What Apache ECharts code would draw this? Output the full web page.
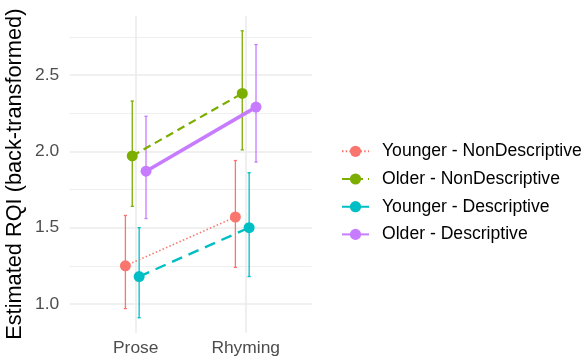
<!DOCTYPE html>
<html>
<head>
<meta charset="utf-8">
<script src="https://cdn.jsdelivr.net/npm/echarts@6/dist/echarts.min.js"></script>
<style>
  html, body { margin: 0; padding: 0; background: #ffffff; }
  #chart { width: 584px; height: 362px; }
</style>
</head>
<body>
<div id="chart"></div>
<script>
// Conditions on the x axis
const categories = ['Prose', 'Rhyming'];

// Groups (age x description type)
const groups = [
  'Younger - NonDescriptive',
  'Older - NonDescriptive',
  'Younger - Descriptive',
  'Older - Descriptive'
];

// Estimated RQI (back-transformed), per condition
const youngerNonDescEst = [1.25, 1.57];
const youngerNonDescLow = [0.97, 1.24];
const youngerNonDescHigh = [1.58, 1.94];

const olderNonDescEst = [1.97, 2.38];
const olderNonDescLow = [1.64, 2.01];
const olderNonDescHigh = [2.33, 2.79];

const youngerDescEst = [1.18, 1.50];
const youngerDescLow = [0.91, 1.18];
const youngerDescHigh = [1.50, 1.86];

const olderDescEst = [1.87, 2.29];
const olderDescLow = [1.56, 1.93];
const olderDescHigh = [2.23, 2.70];

// Y tick labels
const yTicks = [1.0, 1.5, 2.0, 2.5];
const yMinorTicks = [1.25, 1.75, 2.25, 2.75];

const estimates = [youngerNonDescEst, olderNonDescEst, youngerDescEst, olderDescEst];
const lows = [youngerNonDescLow, olderNonDescLow, youngerDescLow, olderDescLow];
const highs = [youngerNonDescHigh, olderNonDescHigh, youngerDescHigh, olderDescHigh];

const colors = ['#F8766D', '#7CAE00', '#00BFC4', '#C77CFF'];
const lineStyles = [
  { type: [1.5, 2.2], width: 1.6 },
  { type: [8, 5], width: 2.2 },
  { type: [11, 7], width: 2.4 },
  { type: 'solid', width: 3.6 }
];

// position dodge, width 0.25
const dodgeWidth = 0.25;
const n = groups.length;
const offsetFor = g => -dodgeWidth / 2 + dodgeWidth / n * (g + 0.5);

const FONT = '"Liberation Sans", Arial, Helvetica, sans-serif';

const series = [];

// error bars
groups.forEach((name, g) => {
  series.push({
    type: 'custom',
    name: 'ci-' + g,
    xAxisIndex: 0,
    yAxisIndex: 0,
    z: 2,
    silent: true,
    data: categories.map((c, i) => [i + 1 + offsetFor(g), lows[g][i], highs[g][i]]),
    renderItem: function (params, api) {
      const lo = api.coord([api.value(0), api.value(1)]);
      const hi = api.coord([api.value(0), api.value(2)]);
      const cap = 1.6;
      const style = { stroke: colors[g], lineWidth: 1.3 };
      return {
        type: 'group',
        children: [
          { type: 'line', shape: { x1: lo[0], y1: lo[1], x2: hi[0], y2: hi[1] }, style: style },
          { type: 'line', shape: { x1: lo[0] - cap, y1: lo[1], x2: lo[0] + cap, y2: lo[1] }, style: style },
          { type: 'line', shape: { x1: hi[0] - cap, y1: hi[1], x2: hi[0] + cap, y2: hi[1] }, style: style }
        ]
      };
    }
  });
});

// lines with points
groups.forEach((name, g) => {
  series.push({
    type: 'line',
    name: name,
    xAxisIndex: 0,
    yAxisIndex: 0,
    z: 3,
    symbol: 'circle',
    symbolSize: 11,
    showSymbol: true,
    animation: false,
    itemStyle: { color: colors[g] },
    lineStyle: { color: colors[g], type: lineStyles[g].type, width: lineStyles[g].width },
    data: categories.map((c, i) => [i + 1 + offsetFor(g), estimates[g][i]])
  });
});

const chart = echarts.init(document.getElementById('chart'), null, { renderer: 'canvas' });
chart.setOption({
  animation: false,
  backgroundColor: '#ffffff',
  grid: { left: 69.7, right: 272.3, top: 15.7, bottom: 29.3, containLabel: false },
  xAxis: {
    type: 'value',
    min: 0.4,
    max: 2.6,
    axisLine: { show: false },
    axisTick: { show: false, customValues: [1, 2] },
    axisLabel: {
      customValues: [1, 2],
      formatter: v => categories[Math.round(v) - 1],
      color: '#4d4d4d',
      fontFamily: FONT,
      fontSize: 17.4,
      margin: 7
    },
    splitLine: { show: true, lineStyle: { color: '#ebebeb', width: 1.6 } }
  },
  yAxis: [
    {
      type: 'value',
      min: 0.812,
      max: 2.889,
      name: 'Estimated RQI (back-transformed)',
      nameLocation: 'middle',
      nameRotate: 90,
      nameGap: 44,
      nameTextStyle: { color: '#000000', fontFamily: FONT, fontSize: 21.75 },
      axisLine: { show: false },
      axisTick: { show: false, customValues: yTicks },
      axisLabel: {
        customValues: yTicks,
        formatter: v => v.toFixed(1),
        color: '#4d4d4d',
        fontFamily: FONT,
        fontSize: 17.4,
        margin: 10.5
      },
      splitLine: { show: true, lineStyle: { color: '#ebebeb', width: 1.6 } }
    },
    {
      type: 'value',
      min: 0.812,
      max: 2.889,
      position: 'left',
      axisLine: { show: false },
      axisTick: { show: false, customValues: yMinorTicks },
      axisLabel: { show: false, customValues: yMinorTicks },
      splitLine: { show: true, lineStyle: { color: '#ebebeb', width: 0.8 } }
    }
  ],
  legend: {
    data: groups,
    orient: 'vertical',
    left: 341,
    top: 142.3,
    padding: 0,
    itemWidth: 27,
    itemHeight: 14,
    itemGap: 9.7,
    textStyle: { color: '#000000', fontFamily: FONT, fontSize: 17.6, padding: [0, 0, 0, 8] }
  },
  series: series
});
</script>
</body>
</html>
